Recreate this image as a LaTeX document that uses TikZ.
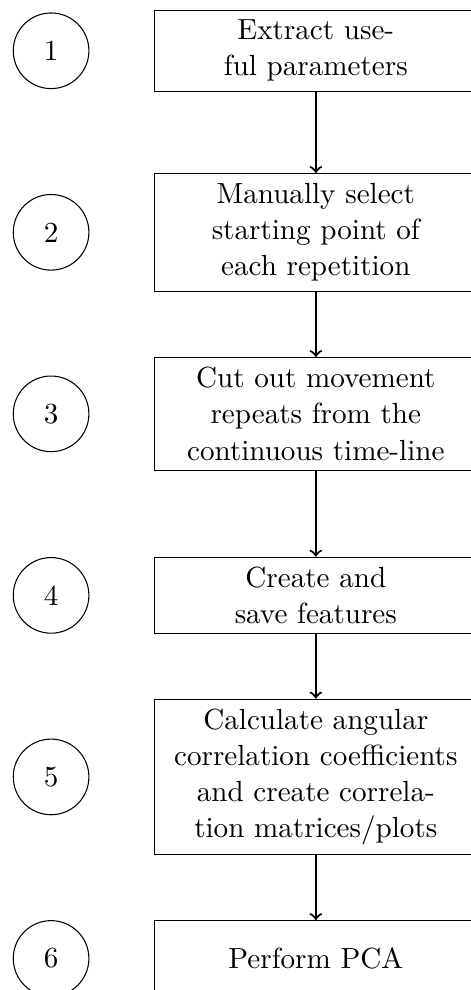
\documentclass[tikz,border=0pt,11pt]{standalone}
\usetikzlibrary{positioning}

\begin{document}
\begin{tikzpicture}[
  stepbox/.style={draw, rectangle, text width=4cm, align=center, minimum height=1cm},
  numcircle/.style={draw, circle, minimum size=1cm},
  flowarrow/.style={->, thick}
]
\useasboundingbox (-118.8pt,19.1pt) rectangle (58.3pt,-353.3pt);
\clip (-118.8pt,19.1pt) rectangle (58.3pt,-353.3pt);

\node[stepbox] (s1) at (0,0) {Extract useful parameters};
\node[stepbox] (s2) at (0,-2.4) {Manually select starting point of each repetition};
\node[stepbox] (s3) at (0,-4.8) {Cut out movement repeats from the continuous time-line};
\node[stepbox] (s4) at (0,-7.2) {Create and save features};
\node[stepbox] (s5) at (0,-9.6) {Calculate angular correlation coefficients and create correlation matrices/plots};
\node[stepbox] (s6) at (0,-12.0) {Perform PCA};

\node[numcircle] (c1) at (-3.5,0) {1};
\node[numcircle] (c2) at (-3.5,-2.4) {2};
\node[numcircle] (c3) at (-3.5,-4.8) {3};
\node[numcircle] (c4) at (-3.5,-7.2) {4};
\node[numcircle] (c5) at (-3.5,-9.6) {5};
\node[numcircle] (c6) at (-3.5,-12.0) {6};

\draw[flowarrow] (s1) -- (s2);
\draw[flowarrow] (s2) -- (s3);
\draw[flowarrow] (s3) -- (s4);
\draw[flowarrow] (s4) -- (s5);
\draw[flowarrow] (s5) -- (s6);
\end{tikzpicture}
\end{document}
